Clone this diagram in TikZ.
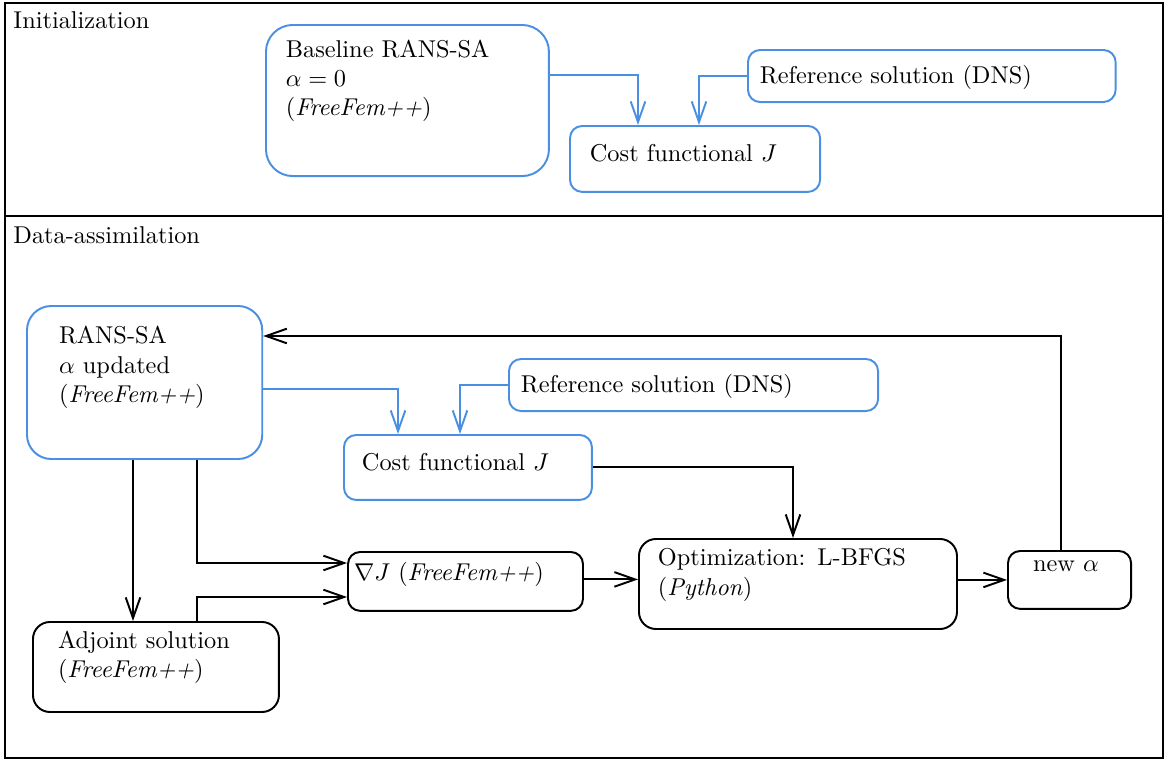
\documentclass[tikz,border=0pt]{standalone}
\usepackage{amsmath,amssymb}
\usepackage{tikz}
\usetikzlibrary{arrows.meta}
\usetikzlibrary{calc}
\definecolor{rablue}{RGB}{74,144,226}
\tikzstyle{bluebox}=[draw=rablue,thick,rounded corners=5pt,anchor=north west,align=left,inner ysep=0pt]
\tikzstyle{blackbox}=[draw=black,thick,rounded corners=5pt,anchor=north west,align=left,inner ysep=0pt]
\tikzstyle{blueline}=[draw=rablue,thick,-{Straight Barb[length=8.5pt,width=6pt]}]
\tikzstyle{blackline}=[draw=black,thick,-{Straight Barb[length=8.5pt,width=6pt]}]
\tikzstyle{frame}=[draw=black,thick]

\begin{document}
\begin{tikzpicture}[x=0.411pt,y=-0.411pt]
      \useasboundingbox (0,0) rectangle (1168,761);

      % the two stages
      \draw[frame] (5,3) rectangle (1163,216);
      \draw[frame] (5,216) rectangle (1163,758);
      \node[anchor=base west,inner sep=0pt] (init) at (13,28) {Initialization};
      \node[anchor=base west,inner sep=0pt] (assim) at (13,243) {Data-assimilation};

      % initialization
      \node[bluebox,rounded corners=11pt,inner xsep=8.2pt,text width=99.9pt,text height=13.2pt,text depth=48.9pt] (base) at (265,24)
        {Baseline RANS-SA\\$\alpha = 0$\\(\textit{FreeFem++})};
      \node[bluebox,inner xsep=4.9pt,text width=141.3pt,text height=13.6pt,text depth=7.8pt] (reftop) at (747,49)
        {Reference solution (DNS)};
      \node[bluebox,inner xsep=8.2pt,text width=86.4pt,text height=14.8pt,text depth=12.3pt] (costtop) at (569,125)
        {Cost functional $J$};

      % data-assimilation
      \node[bluebox,rounded corners=10pt,inner xsep=13.2pt,text width=70.3pt,text height=15.6pt,text depth=47.3pt] (rans) at (26,305)
        {RANS-SA\\$\alpha$ updated\\(\textit{FreeFem++})};
      \node[bluebox,inner xsep=4.9pt,text width=141.9pt,text height=13.6pt,text depth=7.8pt] (refbot) at (508,358)
        {Reference solution (DNS)};
      \node[bluebox,inner xsep=7.4pt,text width=87.1pt,text height=14.8pt,text depth=11.9pt] (costbot) at (343,434)
        {Cost functional $J$};
      \node[blackbox,inner xsep=2.5pt,text width=91.6pt,text height=11.9pt,text depth=12.3pt] (grad) at (347,551)
        {$\nabla J$ (\textit{FreeFem++})};
      \node[blackbox,rounded corners=7pt,inner xsep=7.8pt,text width=115.1pt,text height=11.1pt,text depth=25.9pt] (opt) at (638,538)
        {Optimization: L-BFGS\\(\textit{Python})};
      \node[blackbox,inner xsep=10.3pt,text width=30pt,text height=8.6pt,text depth=15.2pt] (newa) at (1007,550)
        {new $\alpha$};
      \node[blackbox,rounded corners=7pt,inner xsep=10.3pt,text width=80.5pt,text height=10.7pt,text depth=26.3pt] (adj) at (32,621)
        {Adjoint solution\\(\textit{FreeFem++})};

      % blue connectors
      \draw[blueline] ($(base.north east)+(0,51)$) -| ($(costtop.north west)+(69,0)$);
      \draw[blueline] (reftop.west) -| ($(costtop.north west)+(130,0)$);
      \draw[blueline] ($(rans.north east)+(0,84)$) -| ($(costbot.north west)+(55,0)$);
      \draw[blueline] (refbot.west) -| ($(costbot.north west)+(117,0)$);

      % black connectors
      \draw[blackline] (costbot.east) -| ($(opt.north west)+(155,0)$);
      \draw[blackline] ($(rans.south west)+(107,0)$) coordinate (r1) -- (r1 |- adj.north);
      \draw[blackline] ($(rans.south west)+(171,0)$) |- ($(grad.north west)+(0,12)$);
      \draw[blackline] ($(adj.north west)+(165,0)$) |- ($(grad.north west)+(0,46)$);
      \draw[blackline] ($(grad.east)+(0,-2)$) coordinate (g1) -- (g1 -| opt.west);
      \draw[blackline] (newa.west -| opt.east) -- (newa.west);
      \draw[blackline] ($(newa.north west)+(54,0)$) |- ($(rans.north east)+(0,31)$);
\end{tikzpicture}
\end{document}
